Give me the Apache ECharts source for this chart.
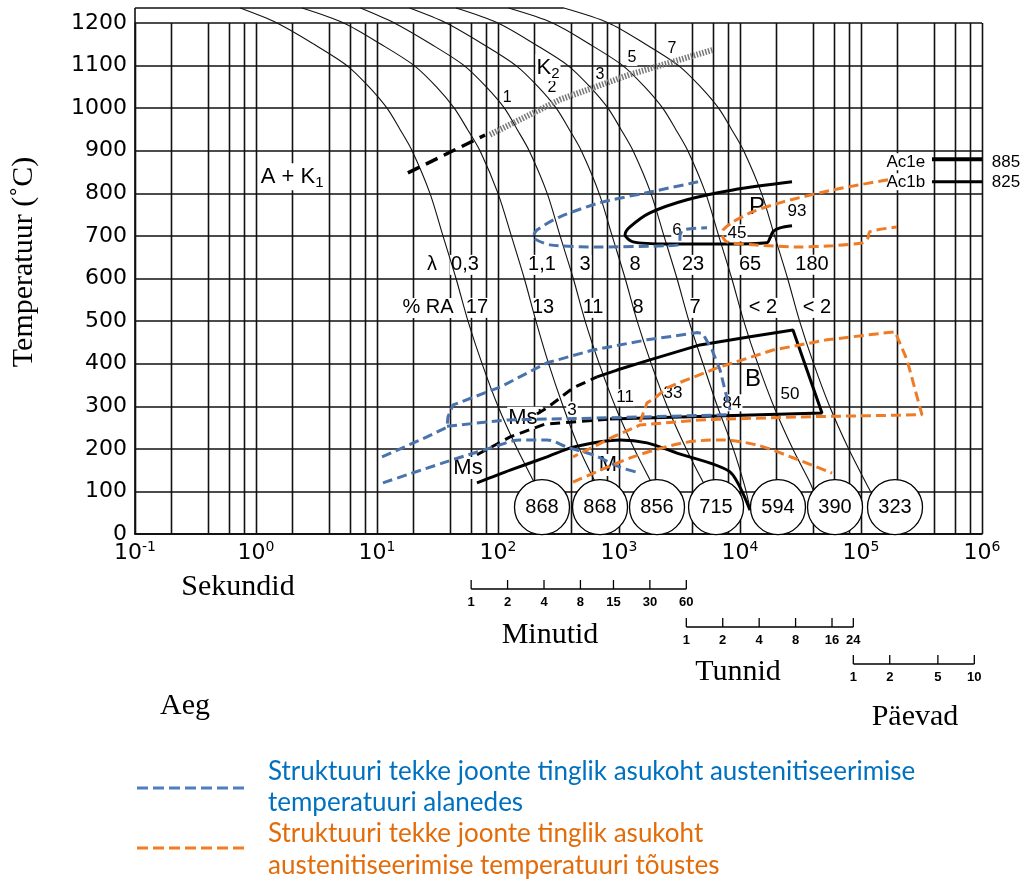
<!DOCTYPE html>
<html>
<head>
<meta charset="utf-8">
<script src="https://cdn.jsdelivr.net/npm/echarts@6.0.0/dist/echarts.min.js"></script>
<style>
html,body{margin:0;padding:0;background:#ffffff;}
#chart{width:1025px;height:881px;}
</style>
</head>
<body>
<div id="chart"></div>
<script>
// ---------------- axes ----------------
const temperatureMin = 0, temperatureMax = 1200, temperatureStep = 100;
const timeMin = 0.1, timeMax = 1e6;
const gridDecades = [0.1, 1, 10, 100, 1000, 10000, 100000];
const gridMultipliers = [1, 2, 4, 6, 8];

// austenitizing line at top and frame stub
const austenitizingLine = [[0.1, 1235], [350, 1235]];
const leftFrameStub = [[0.1, 1200], [0.1, 1235]];

// ---------------- cooling curves [time s, temperature °C] ----------------
const coolingCurve1 = [[0.74,1235],[1.49,1200],[3.02,1150],[5.65,1100],[8.59,1050],[12.1,1000],[15.5,950],[19.5,900],[27.4,800],[35.1,700],[45,600],[56.5,500],[73.8,400],[100,300],[144,200],[200,120],[215,100]];
const coolingCurve2 = [[2.4,1235],[5.3,1200],[10.8,1150],[20.3,1100],[31,1050],[43.5,1000],[56,950],[71,900],[100,800],[129,700],[165,600],[206,500],[262,400],[345,300],[470,200],[640,120],[700,100]];
const coolingCurve3 = [[7.3,1235],[13.9,1200],[28.1,1150],[52.5,1100],[80,1050],[113,1000],[144,950],[181,900],[255,800],[326,700],[419,600],[525,500],[686,400],[930,300],[1335,200],[1860,120],[2050,100]];
const coolingCurve4 = [[18.6,1235],[37.3,1200],[75.5,1150],[141,1100],[215,1050],[303,1000],[388,950],[488,900],[685,800],[878,700],[1125,600],[1413,500],[1845,400],[2500,300],[3590,200],[5000,120],[5600,100]];
const coolingCurve5 = [[45,1235],[99.8,1200],[202,1150],[379,1100],[576,1050],[811,1000],[1039,950],[1307,900],[1836,800],[2352,700],[3015,600],[3786,500],[4945,400],[6500,300],[8800,200],[11000,110],[12100,60]];
const coolingCurve6 = [[122,1235],[283,1200],[574,1150],[1074,1100],[1632,1050],[2299,1000],[2945,950],[3705,900],[5206,800],[6669,700],[8550,600],[10740,500],[14020,400],[19000,300],[27280,200],[38000,120],[42000,90]];
const coolingCurve7 = [[350,1235],[820,1200],[1661,1150],[3108,1100],[4725,1050],[6655,1000],[8525,950],[10725,900],[15070,800],[19305,700],[24750,600],[31075,500],[40590,400],[55000,300],[78980,200],[110000,120],[120000,100]];

// ---------------- transformation lines (black, original) ----------------
const k2Dashed = [[18.0,848],[78.2,937]];
const k2Dotted = [[85.9,938],[325,1020],[1233,1079],[5980,1137]];
const pearliteBlack = [[26900,827],[8750,808],[3650,785],[1800,754],[1233,721],[1122,703],[1306,686],[2495,681],[7810,681],[16700,684],[17700,695],[18750,710],[21400,719],[26900,724]];
const bainiteBlack = [[843,270],[47600,284],[27400,479],[12100,463],[4670,444],[1800,409],[963,385],[658,369]];
const bainiteStartDashed = [[210,282],[254,296],[417,343],[658,369]];
const msPrimeDashed = [[67,186],[126,228],[244,258],[843,270]];
const msLine = [[67,120],[126,150],[254,181],[417,204],[1019,221],[1703,214],[3015,190],[8260,146],[12100,56]];
const ac1eLine = [[386000,880],[1e6,880]];
const ac1bLine = [[386000,827],[1e6,827]];

// ---------------- lower austenitizing temperature (blue) ----------------
const bluePearlite = [[4500,827],[1800,803],[697,778],[325,745],[210,714],[195,698],[269,679],[697,674],[2495,677],[3190,681],[3190,700],[3380,714],[5340,719]];
const blueBainite = [[11.0,181],[25.9,228],[37.9,251],[38.6,275],[42.5,303],[104,345],[254,402],[610,432],[1703,456],[4500,473],[4940,470],[5875,432],[6840,385],[8260,291]];
const blueMsPrime = [[37.9,253],[119,268],[610,272],[8260,280]];
const blueMartensite = [[11.2,120],[35.1,167],[91,204],[152,221],[254,221],[372,204],[610,186],[1019,157],[1493,143]];

// ---------------- higher austenitizing temperature (orange) ----------------
const orangePearlite = [[167000,832],[58700,808],[22700,780],[12800,757],[8750,733],[7240,714],[7100,703],[7810,686],[12800,679],[31300,674],[58700,677],[104000,684],[114000,695],[118600,710],[198500,721]];
const orangeBainite = [[1493,263],[1703,308],[1950,318],[2495,343],[3130,355],[6460,390],[18750,432],[52300,456],[191000,475],[240000,409],[319000,280],[31300,275],[4670,268],[1493,256],[892,228],[417,181]];
const orangeMartensite = [[417,122],[1306,181],[3380,214],[6840,221],[13800,209],[27400,179],[57600,143]];

// ---------------- annotation values ----------------
const lambdaValues = ['0,3','1,1','3','8','23','65','180'];
const lambdaTimes = [53.3,231,523,1355,4090,12100,39400];
const lambdaRowTemp = 632;
const raValues = ['17','13','11','8','7','< 2','< 2'];
const raTimes = [67,236,610,1435,4250,15500,43300];
const raRowTemp = 531;
const k2Numbers = [['1',119,1024],['2',279,1048],['3',697,1078],['5',1280,1118],['7',2740,1140]];
const phaseLabels = [['{m|A + K}{sub|1}',1.99,839],['{m|K}{sub|2}',259,1095],['Ms',56.5,155],["Ms'",167,273],['M',811,162]];
const regionLetters = [['P',13800,766],['B',12800,362]];
const fractionLabels = [['93',29600,757],['45',9440,707],['6',3015,714],['50',25900,327],['84',8590,308],['33',2790,331],['11',1122,320],['3',409,291]];
const acLabels = [['Ac1e',235000,874],['Ac1b',235000,827],['885',1.58e6,874],['825',1.58e6,827]];

// hardness HV circles
const hardnessHV = [868,868,856,715,594,390,323];
const hardnessTimes = [231,697,2061,6340,20600,61000,191000];
const hardnessTemp = 63;

// secondary time scales
const minuteTicks = [1,2,4,8,15,30,60];
const hourTicks = [1,2,4,8,16,24];
const dayTicks = [1,2,5,10];

// ---------------- styling ----------------
const BLACK = '#000000';
const BLUE = '#4a73ab';
const ORANGE = '#ee7b26';
const SANS = 'Liberation Sans';
const GRID = '#111111';

const gridTimes = gridDecades.flatMap(d => gridMultipliers.map(m => d * m)).concat([timeMax]);

function lineSeries(data, color, width, dash, z, smooth) {
  return {
    type: 'line', data: data, clip: false, silent: true, showSymbol: false, symbol: 'none',
    z: z, smooth: smooth || false, animation: false,
    lineStyle: { color: color, width: width, type: dash || 'solid', cap: 'butt', opacity: 1 }
  };
}

const richStyles = {
  m: { fontFamily: SANS, fontSize: 22, color: BLACK, textBorderWidth: 0 },
  sub: { fontFamily: SANS, fontSize: 15, color: BLACK, textBorderWidth: 0, padding: [12, 0, 0, 0] }
};

function annotationSeries(items, fontSize, z) {
  return {
    type: 'scatter', silent: true, clip: false, z: z || 2, symbol: 'circle', symbolSize: 0,
    itemStyle: { color: '#ffffff', opacity: 1 },
    labelLayout: { hideOverlap: false },
    data: items.map(it => ({ value: [it[1], it[2]], name: it[0] })),
    label: {
      show: true, position: 'inside', formatter: p => p.name, color: BLACK, opacity: 1,
      textBorderWidth: 0, textBorderColor: 'transparent', textShadowBlur: 0,
      fontFamily: SANS, fontSize: fontSize, backgroundColor: '#ffffff', padding: [0, 1],
      rich: richStyles
    }
  };
}

function scaleSeries(ticks, unitSeconds, offset) {
  return {
    type: 'custom', coordinateSystem: 'cartesian2d', silent: true, clip: false, z: 5,
    data: ticks.map(v => [v * unitSeconds, 0, v]),
    renderItem: function (params, api) {
      const p = api.coord([api.value(0), 0]);
      const y = p[1] + offset;
      const children = [
        { type: 'line', shape: { x1: p[0], y1: y - 9, x2: p[0], y2: y }, style: { stroke: BLACK, lineWidth: 1.3 } },
        { type: 'text', style: { text: String(api.value(2)), x: p[0], y: y + 13, fill: BLACK,
            font: 'bold 13px "Liberation Sans Narrow", "Liberation Sans", sans-serif',
            textAlign: 'center', textVerticalAlign: 'middle', align: 'center', verticalAlign: 'middle' } }
      ];
      if (params.dataIndex === 0) {
        const last = api.coord([ticks[ticks.length - 1] * unitSeconds, 0]);
        children.push({ type: 'line', shape: { x1: p[0], y1: y, x2: last[0], y2: y }, style: { stroke: BLACK, lineWidth: 1.3 } });
      }
      return { type: 'group', children: children };
    }
  };
}

function textEl(x, y, text, font, color, align, extra) {
  return Object.assign({
    type: 'text', x: x, y: y, silent: true,
    style: { text: text, fill: color || BLACK, font: font,
      textAlign: align || 'center', textVerticalAlign: 'middle', align: align || 'center', verticalAlign: 'middle' }
  }, extra || {});
}

const serif30 = '30px "Liberation Serif"';
const legendFont = '26px Lato';

const series = [];
// vertical grid lines
series.push({
  type: 'custom', coordinateSystem: 'cartesian2d', silent: true, z: 1,
  data: gridTimes.map(t => [t, 0]),
  renderItem: function (params, api) {
    const a = api.coord([api.value(0), temperatureMin]);
    const b = api.coord([api.value(0), temperatureMax]);
    const x = Math.round(a[0]) + 0.5;
    return { type: 'line', shape: { x1: x, y1: a[1], x2: x, y2: b[1] }, style: { stroke: GRID, lineWidth: 1.6 } };
  }
});
series.push(lineSeries(austenitizingLine, GRID, 1.5, 'solid', 1));
series.push(lineSeries(leftFrameStub, GRID, 1.6, 'solid', 1));

// annotations (white backgrounds cut grid lines)
series.push(annotationSeries([['λ', 28.5, lambdaRowTemp]].concat(lambdaValues.map((v, i) => [v, lambdaTimes[i], lambdaRowTemp])), 20));
series.push(annotationSeries([['% RA', 26.4, raRowTemp]].concat(raValues.map((v, i) => [v, raTimes[i], raRowTemp])), 20));
series.push(annotationSeries(k2Numbers, 16));
series.push(annotationSeries(phaseLabels, 22));
series.push(annotationSeries(regionLetters, 24));
series.push(annotationSeries(fractionLabels, 17));
series.push(annotationSeries(acLabels, 17));

// cooling curves
[coolingCurve1, coolingCurve2, coolingCurve3, coolingCurve4, coolingCurve5, coolingCurve6, coolingCurve7]
  .forEach(c => series.push(lineSeries(c, '#111111', 1.1, 'solid', 3, 0.3)));

// black transformation lines
series.push(lineSeries(k2Dashed, BLACK, 3.5, [13, 7], 4));
series.push(lineSeries(k2Dotted, '#777777', 6, [1.5, 1.5], 4));
series.push(lineSeries(pearliteBlack, BLACK, 3, 'solid', 4, 0.3));
series.push(lineSeries(bainiteBlack, BLACK, 3, 'solid', 4));
series.push(lineSeries(bainiteStartDashed, BLACK, 3, [10, 6], 4));
series.push(lineSeries(msPrimeDashed, BLACK, 3, [10, 6], 4));
series.push(lineSeries(msLine, BLACK, 3, 'solid', 4, 0.25));
series.push(lineSeries(ac1eLine, BLACK, 4, 'solid', 4));
series.push(lineSeries(ac1bLine, BLACK, 3, 'solid', 4));

// blue
series.push(lineSeries(bluePearlite, BLUE, 3, [10, 5], 4, 0.25));
series.push(lineSeries(blueBainite, BLUE, 3, [10, 5], 4));
series.push(lineSeries(blueMsPrime, BLUE, 3, [10, 5], 4));
series.push(lineSeries(blueMartensite, BLUE, 3, [10, 5], 4, 0.3));
// orange
series.push(lineSeries(orangePearlite, ORANGE, 3, [10, 5], 4, 0.25));
series.push(lineSeries(orangeBainite, ORANGE, 3, [10, 5], 4));
series.push(lineSeries(orangeMartensite, ORANGE, 3, [10, 5], 4, 0.3));

// hardness circles
series.push({
  type: 'scatter', z: 6, silent: true, clip: false, symbol: 'circle', symbolSize: 55,
  itemStyle: { color: '#ffffff', borderColor: BLACK, borderWidth: 1.3, opacity: 1 },
  data: hardnessTimes.map((t, i) => [t, hardnessTemp, hardnessHV[i]]),
  label: { show: true, position: 'inside', formatter: p => String(p.value[2]), color: BLACK,
    textBorderWidth: 0, fontFamily: SANS, fontSize: 20 }
});

// secondary time scales
series.push(scaleSeries(minuteTicks, 60, 55));
series.push(scaleSeries(hourTicks, 3600, 93));
series.push(scaleSeries(dayTicks, 86400, 130));

const option = {
  animation: false,
  backgroundColor: '#ffffff',
  grid: { left: 135, right: 43, top: 23, bottom: 347, show: false },
  xAxis: {
    type: 'log', logBase: 10, min: timeMin, max: timeMax, splitNumber: 7,
    axisLine: { show: true, lineStyle: { color: BLACK, width: 1.6 } },
    axisTick: { show: false }, splitLine: { show: false }, minorTick: { show: false }, minorSplitLine: { show: false },
    axisLabel: {
      margin: 6, color: BLACK,
      formatter: v => '{b|10}{s|' + Math.round(Math.log10(v)) + '}',
      rich: {
        b: { fontFamily: 'DejaVu Sans', fontSize: 22, color: BLACK },
        s: { fontFamily: 'DejaVu Sans', fontSize: 14, color: BLACK, padding: [0, 0, 12, 0] }
      }
    }
  },
  yAxis: {
    type: 'value', min: temperatureMin, max: temperatureMax, interval: temperatureStep,
    axisLine: { show: true, lineStyle: { color: BLACK, width: 1.6 } },
    axisTick: { show: false },
    splitLine: { show: true, lineStyle: { color: GRID, width: 1.6 } },
    axisLabel: { margin: 8, color: BLACK, fontFamily: 'DejaVu Sans', fontSize: 22, formatter: v => String(v) }
  },
  graphic: [
    textEl(24, 262, 'Temperatuur (˚C)', serif30, BLACK, 'center', { rotation: Math.PI / 2 }),
    textEl(238, 587, 'Sekundid', serif30),
    textEl(550, 635, 'Minutid', serif30),
    textEl(738, 672, 'Tunnid', serif30),
    textEl(915, 717, 'Päevad', serif30),
    textEl(185, 706, 'Aeg', serif30),
    { type: 'line', silent: true, shape: { x1: 137, y1: 788, x2: 245, y2: 788 }, style: { stroke: '#4f7fc0', lineWidth: 3, lineDash: [11, 5] } },
    { type: 'line', silent: true, shape: { x1: 137, y1: 848, x2: 245, y2: 848 }, style: { stroke: '#f07c24', lineWidth: 3, lineDash: [11, 5] } },
    textEl(268, 772, 'Struktuuri tekke joonte tinglik asukoht austenitiseerimise', legendFont, '#0070C0', 'left'),
    textEl(268, 803, 'temperatuuri alanedes', legendFont, '#0070C0', 'left'),
    textEl(268, 834, 'Struktuuri tekke joonte tinglik asukoht', legendFont, '#E36C0A', 'left'),
    textEl(268, 866, 'austenitiseerimise temperatuuri tõustes', legendFont, '#E36C0A', 'left')
  ],
  series: series
};

const chart = echarts.init(document.getElementById('chart'), null, { renderer: 'canvas' });
chart.setOption(option);
</script>
</body>
</html>
